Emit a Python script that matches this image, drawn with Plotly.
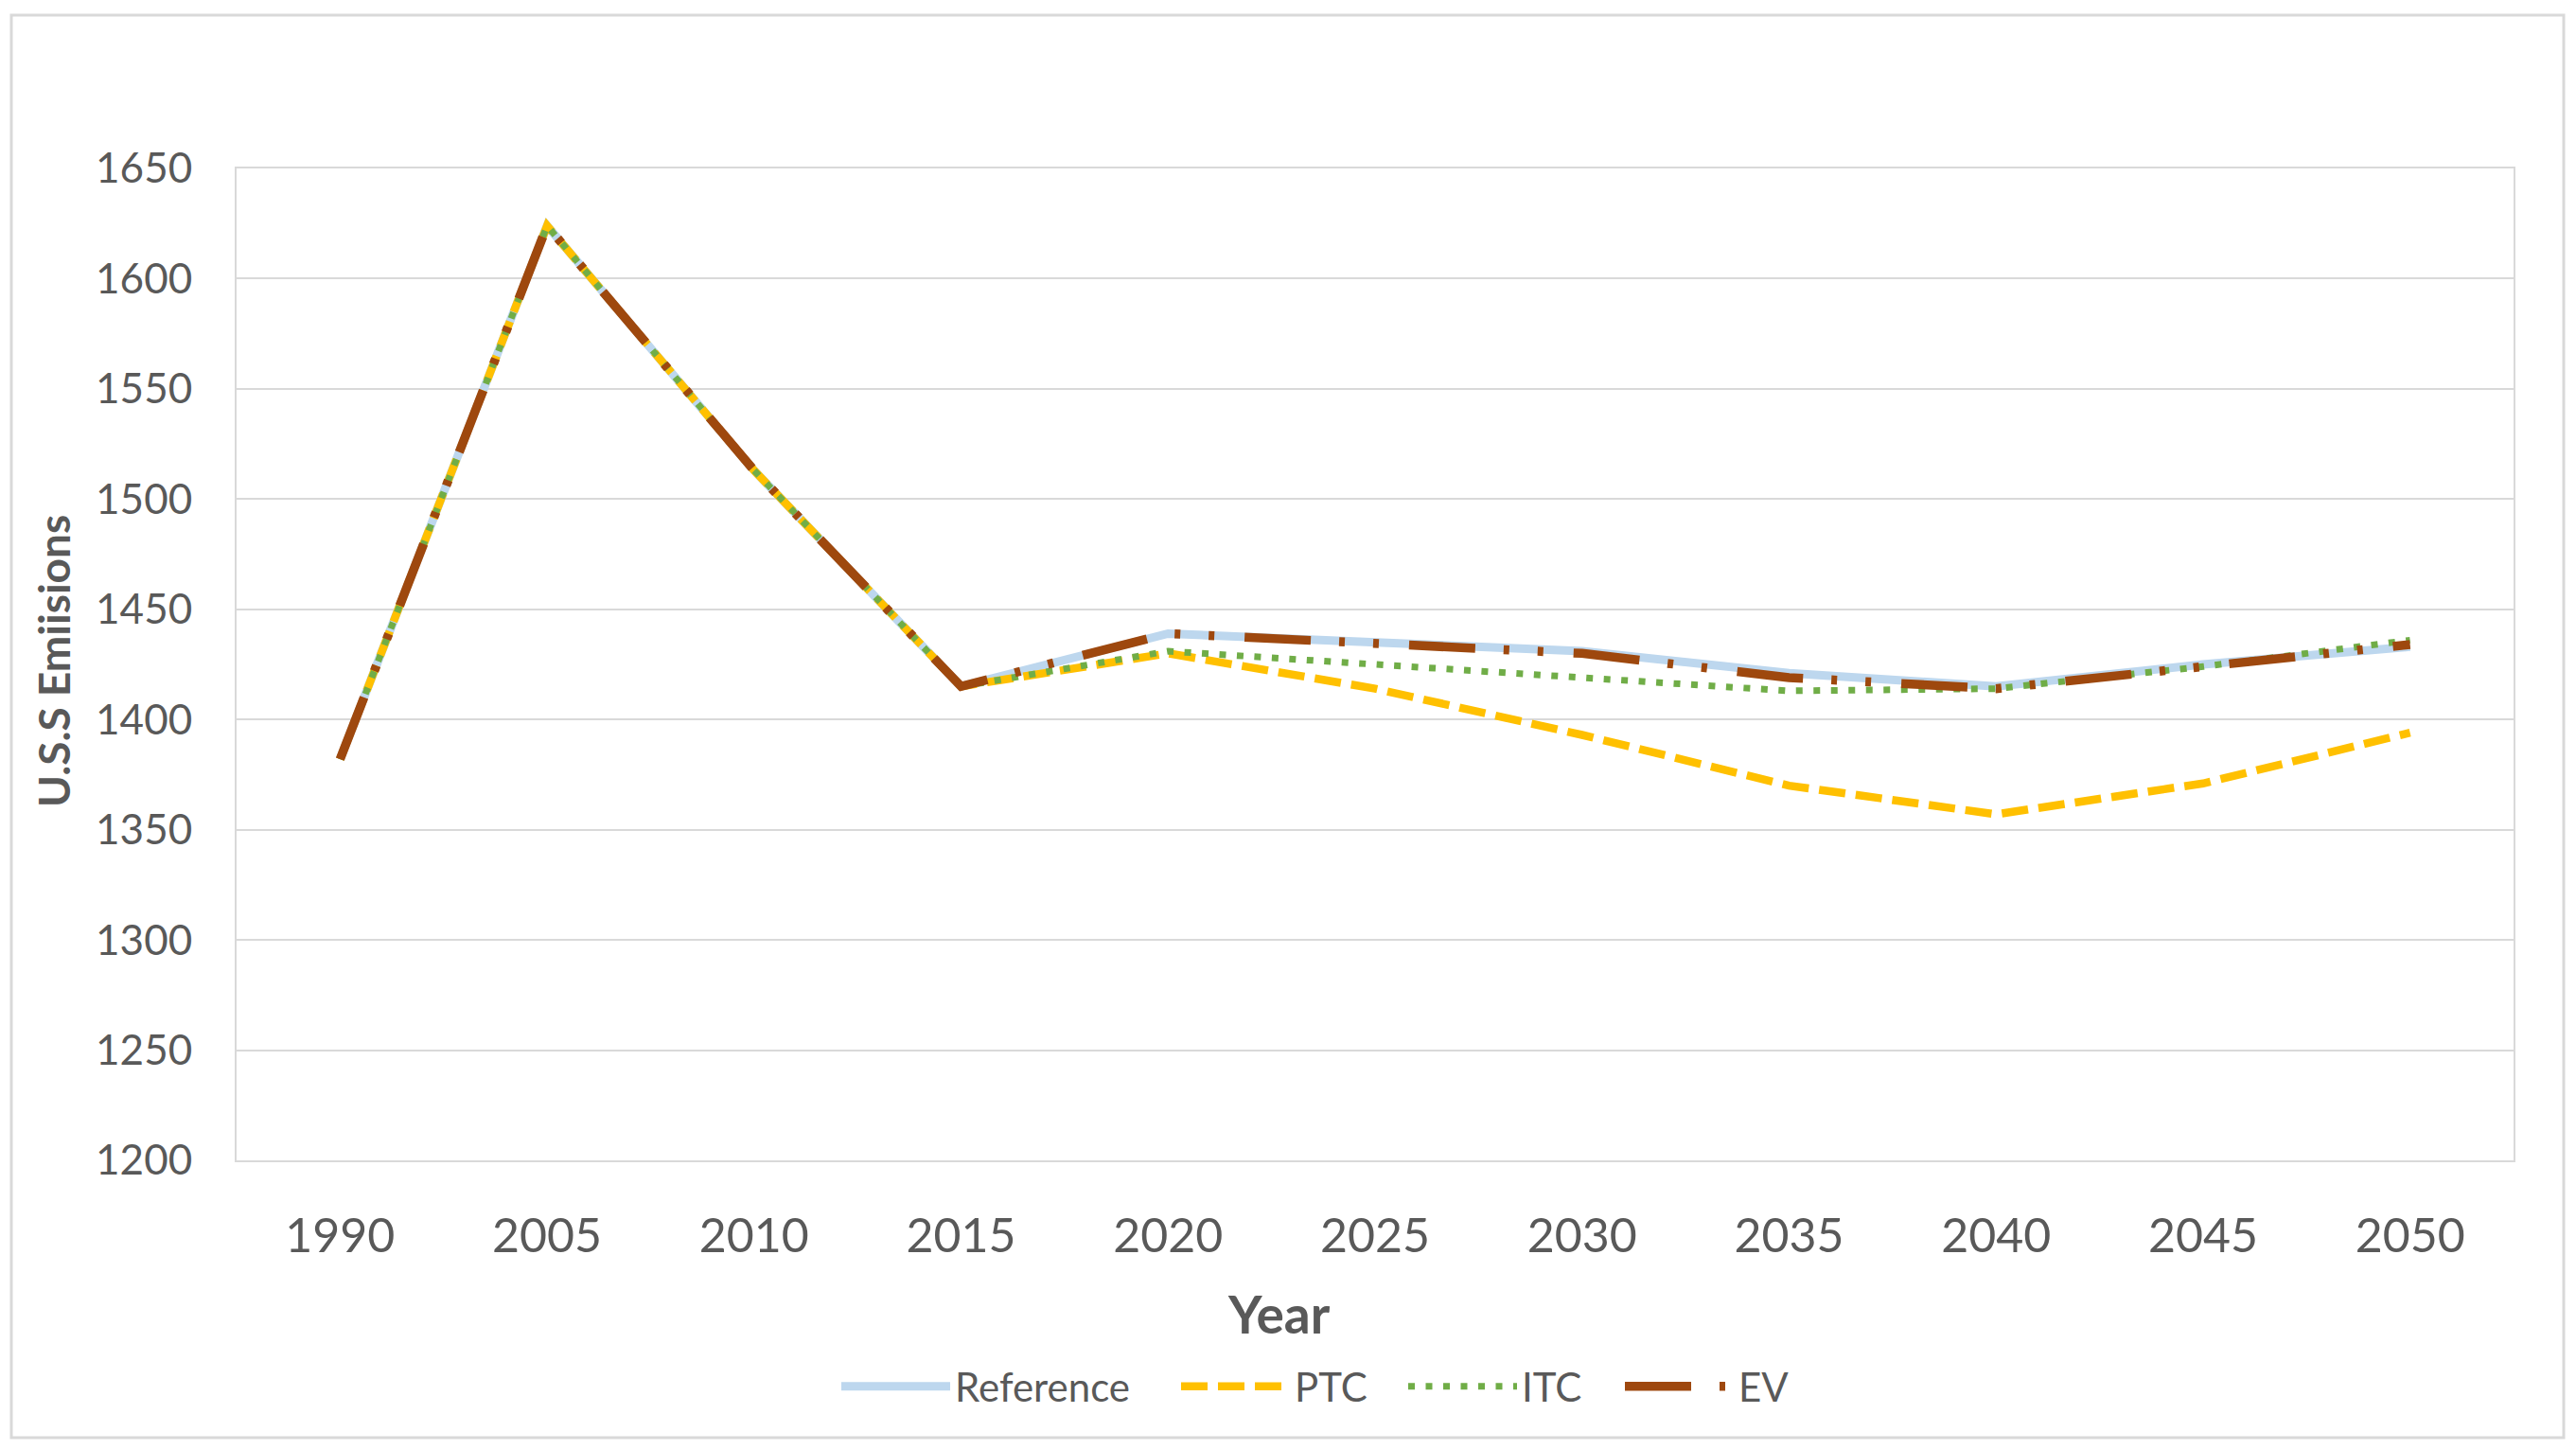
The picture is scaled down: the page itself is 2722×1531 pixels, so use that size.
import plotly.graph_objects as go

years = ["1990", "2005", "2010", "2015", "2020", "2025", "2030", "2035", "2040", "2045", "2050"]
reference = [1382, 1624, 1513, 1415, 1439, 1435, 1431, 1421, 1415, 1425, 1433]
ptc = [1382, 1624, 1513, 1415, 1430, 1414, 1393, 1370, 1357, 1371, 1394]
itc = [1382, 1624, 1513, 1415, 1431, 1425, 1419, 1413, 1414, 1424, 1436]
ev = [1382, 1624, 1513, 1415, 1439, 1435, 1430, 1419, 1414, 1424, 1434]
y_ticks = [1200, 1250, 1300, 1350, 1400, 1450, 1500, 1550, 1600, 1650]

W, H = 2722, 1531
ML, MR, MT, MB = 250, 66, 178, 305
PW = W - ML - MR
PH = H - MT - MB

FONT = "Lato"
TXT = "#595959"
GRID = "#D9D9D9"

fig = go.Figure()
fig.add_trace(go.Scatter(x=years, y=reference, name="Reference", mode="lines",
                         legendwidth=229,
                         line=dict(color="#BDD7EE", width=9)))
fig.add_trace(go.Scatter(x=years, y=ptc, name="PTC", mode="lines",
                         legendwidth=110,
                         line=dict(color="#FFC000", width=8.5, dash="28px,11px")))
fig.add_trace(go.Scatter(x=years, y=itc, name="ITC", mode="lines",
                         legendwidth=99,
                         line=dict(color="#70AD47", width=7, dash="7px,11.5px")))
fig.add_trace(go.Scatter(x=years, y=ev, name="EV", mode="lines",
                         legendwidth=60,
                         line=dict(color="#9E480E", width=9.5,
                                   dash="70px,30px,6px,30px,6px,32px")))


def px_x(p):
    return (p - ML) / PW


def px_y(p):
    return (H - MB - p) / PH


fig.add_shape(type="rect", xref="paper", yref="paper",
              x0=px_x(12), x1=px_x(2709), y0=px_y(1519), y1=px_y(16),
              line=dict(color=GRID, width=3), fillcolor="rgba(0,0,0,0)", layer="below")

fig.add_annotation(text="Year", xref="paper", yref="paper",
                   x=px_x(1351), y=px_y(1388), xanchor="center", yanchor="middle",
                   showarrow=False,
                   font=dict(family=FONT, size=55, color=TXT, weight="bold"))
fig.add_annotation(text="U.S.S Emiisions", xref="paper", yref="paper",
                   x=px_x(56), y=px_y(698), xanchor="center", yanchor="middle",
                   textangle=-90, showarrow=False,
                   font=dict(family=FONT, size=46, color=TXT, weight="bold"))

fig.update_layout(
    width=W, height=H,
    margin=dict(l=ML, r=MR, t=MT, b=MB, autoexpand=False),
    paper_bgcolor="white", plot_bgcolor="white",
    font=dict(family=FONT, color=TXT, size=44),
    showlegend=True,
    legend=dict(orientation="h", xref="container", yref="container",
                x=884 / W, xanchor="left", y=1 - 1465 / H, yanchor="middle",
                font=dict(family=FONT, size=42, color=TXT),
                itemwidth=115, tracegroupgap=0, bgcolor="rgba(0,0,0,0)"),
    xaxis=dict(type="category", range=[-0.5, 10.5], showgrid=False,
               showline=True, linecolor=GRID, linewidth=2, mirror=True,
               ticks="", ticklabelstandoff=35,
               tickfont=dict(family=FONT, size=50, color=TXT)),
    yaxis=dict(range=[1200, 1650], tickvals=y_ticks, showgrid=True,
               gridcolor=GRID, gridwidth=2, zeroline=False,
               showline=True, linecolor=GRID, linewidth=2, mirror=True,
               ticks="", ticklabelstandoff=36,
               tickfont=dict(family=FONT, size=44, color=TXT)),
)

fig.write_html("out.html", config={"displayModeBar": False},
               post_script="document.body.style.margin='0';document.body.style.overflow='hidden';")
